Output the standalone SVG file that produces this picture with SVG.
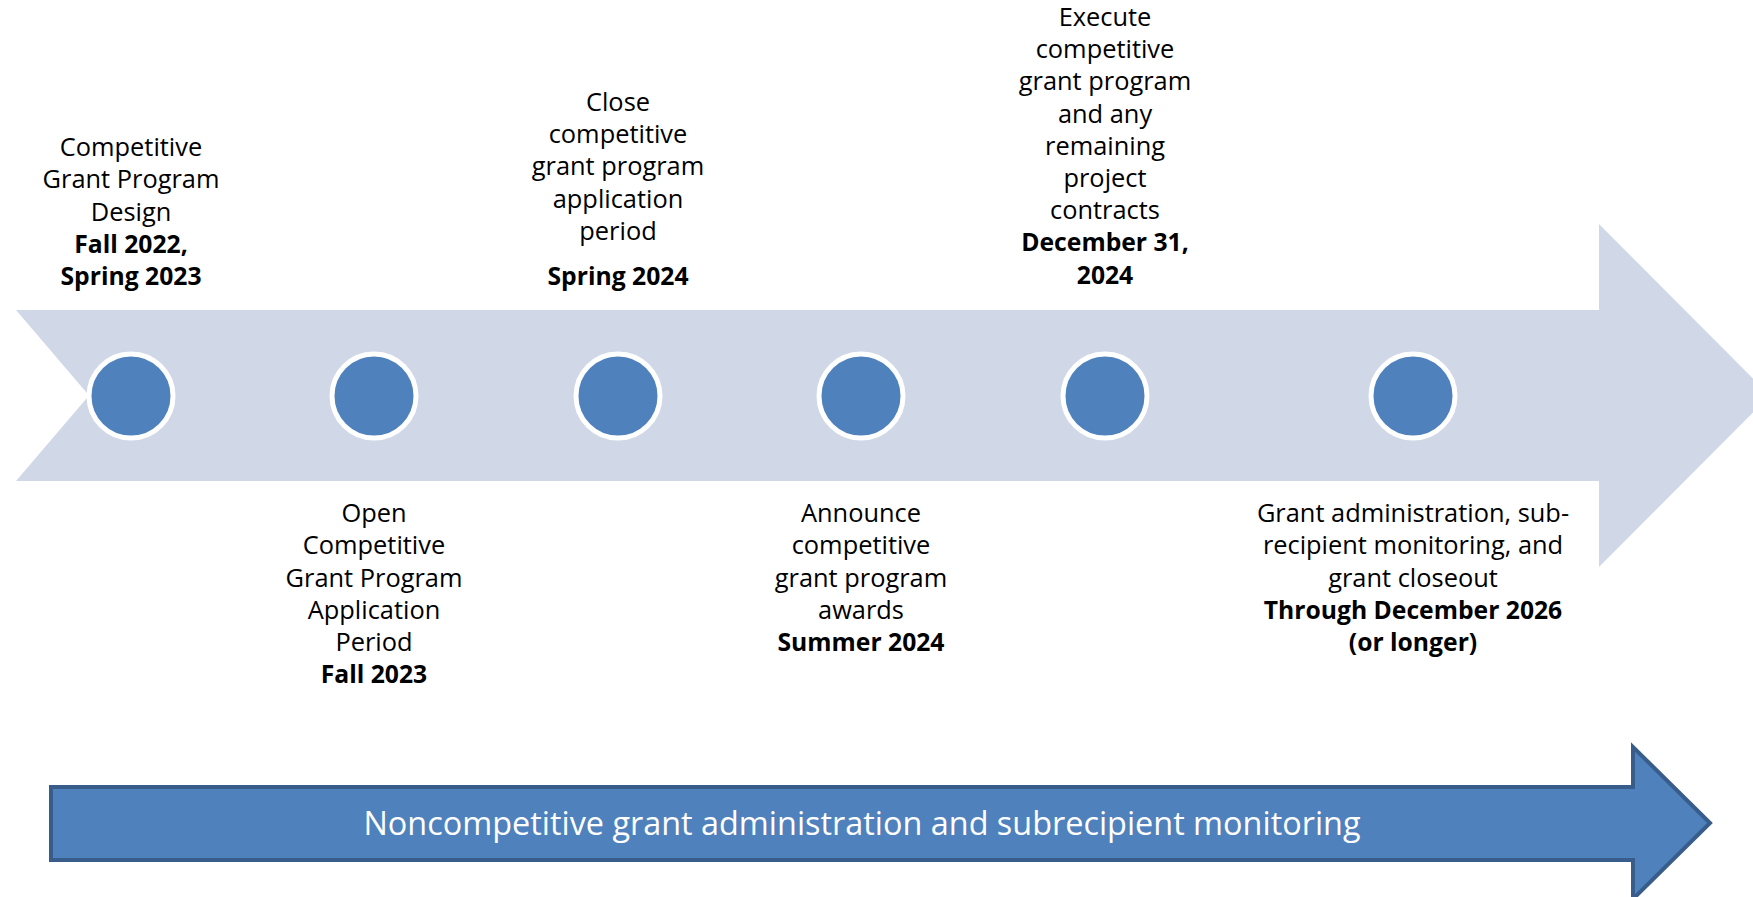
<svg xmlns="http://www.w3.org/2000/svg" width="1753" height="897" viewBox="0 0 1753 897">
<style>
.t{font-family:"Open Sans","Liberation Sans",sans-serif;font-size:25.4px;fill:#000;text-anchor:middle}
.b{font-weight:bold;font-size:24.7px}
.dot{fill:#4F81BD;stroke:#FFFFFF;stroke-width:5}
.big{fill:#D0D8E8}
.low{fill:#4F81BD;stroke:#385D8A;stroke-width:4}
.lt{font-family:"Open Sans","Liberation Sans",sans-serif;font-size:32.4px;fill:#FFFFFF;text-anchor:middle}
</style>
<rect width="1753" height="897" fill="#FFFFFF"/>
<g id="connectors">
<path id="main-arrow" class="big" d="M16,310 L1599,310 L1599,224 L1770,395.5 L1599,567 L1599,481 L16,481 L89,395.5 Z"/>
<path id="bottom-arrow" class="low" d="M51,787 L1633,787 L1633,747 L1710,823 L1633,899 L1633,860 L51,860 Z"/>
<text class="lt" x="862" y="835">Noncompetitive grant administration and subrecipient monitoring</text>
</g>
<g id="node1">
<circle class="dot" cx="131" cy="396" r="42"/>
<text class="t" x="131" y="156">Competitive</text>
<text class="t" x="131" y="188.3">Grant Program</text>
<text class="t" x="131" y="220.6">Design</text>
<text class="t b" x="131" y="252.8">Fall 2022,</text>
<text class="t b" x="131" y="285">Spring 2023</text>
</g>
<g id="node2">
<circle class="dot" cx="374" cy="396" r="42"/>
<text class="t" x="374" y="522.3">Open</text>
<text class="t" x="374" y="554.4">Competitive</text>
<text class="t" x="374" y="586.5">Grant Program</text>
<text class="t" x="374" y="618.6">Application</text>
<text class="t" x="374" y="650.7">Period</text>
<text class="t b" x="374" y="682.8">Fall 2023</text>
</g>
<g id="node3">
<circle class="dot" cx="618" cy="396" r="42"/>
<text class="t" x="618" y="110.8">Close</text>
<text class="t" x="618" y="143.1">competitive</text>
<text class="t" x="618" y="175.4">grant program</text>
<text class="t" x="618" y="207.7">application</text>
<text class="t" x="618" y="240">period</text>
<text class="t b" x="618" y="285">Spring 2024</text>
</g>
<g id="node4">
<circle class="dot" cx="861" cy="396" r="42"/>
<text class="t" x="861" y="522.3">Announce</text>
<text class="t" x="861" y="554.4">competitive</text>
<text class="t" x="861" y="586.5">grant program</text>
<text class="t" x="861" y="618.6">awards</text>
<text class="t b" x="861" y="650.7">Summer 2024</text>
</g>
<g id="node5">
<circle class="dot" cx="1105" cy="396" r="42"/>
<text class="t" x="1105" y="25.9">Execute</text>
<text class="t" x="1105" y="58.1">competitive</text>
<text class="t" x="1105" y="90.3">grant program</text>
<text class="t" x="1105" y="122.5">and any</text>
<text class="t" x="1105" y="154.7">remaining</text>
<text class="t" x="1105" y="186.9">project</text>
<text class="t" x="1105" y="219.1">contracts</text>
<text class="t b" x="1105" y="251.3">December 31,</text>
<text class="t b" x="1105" y="283.5">2024</text>
</g>
<g id="node6">
<circle class="dot" cx="1413" cy="396" r="42"/>
<text class="t" x="1413" y="522.3">Grant administration, sub-</text>
<text class="t" x="1413" y="554.4">recipient monitoring, and</text>
<text class="t" x="1413" y="586.5">grant closeout</text>
<text class="t b" x="1413" y="618.6">Through December 2026</text>
<text class="t b" x="1413" y="650.7">(or longer)</text>
</g>
</svg>
